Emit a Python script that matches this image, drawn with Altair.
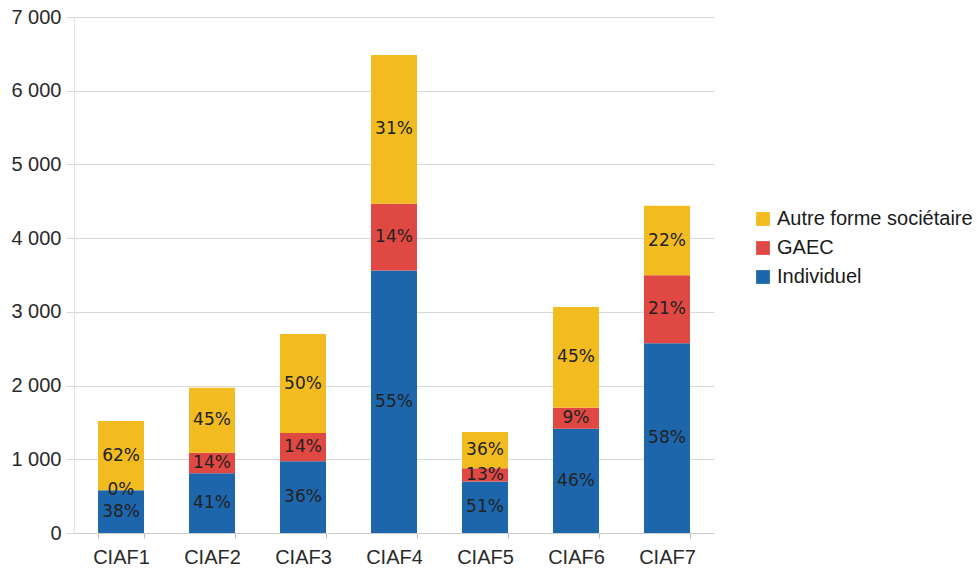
import altair as alt
import pandas as pd

categories = ["CIAF1", "CIAF2", "CIAF3", "CIAF4", "CIAF5", "CIAF6", "CIAF7"]
series = ["Individuel", "GAEC", "Autre forme sociétaire"]
individuel = [580, 810, 975, 3560, 700, 1415, 2575]
gaec = [0, 280, 380, 905, 180, 285, 920]
autre = [940, 880, 1345, 2020, 490, 1365, 945]
pct_individuel = ["38%", "41%", "36%", "55%", "51%", "46%", "58%"]
pct_gaec = ["0%", "14%", "14%", "14%", "13%", "9%", "21%"]
pct_autre = ["62%", "45%", "50%", "31%", "36%", "45%", "22%"]

rows = []
for i, c in enumerate(categories):
    for k, (s, vals, pcts) in enumerate(zip(series, [individuel, gaec, autre],
                                              [pct_individuel, pct_gaec, pct_autre])):
        rows.append({"cat": c, "serie": s, "value": vals[i], "pct": pcts[i], "ord": k})
df = pd.DataFrame(rows)

color_scale = alt.Scale(
    domain=["Autre forme sociétaire", "GAEC", "Individuel"],
    range=["#F2BB1F", "#E04844", "#1D66AC"],
)

base = alt.Chart(df).transform_stack(
    stack="value", groupby=["cat"], as_=["y0", "y1"], sort=[alt.SortField("ord", order="ascending")]
).transform_calculate(mid="(datum.y0 + datum.y1) / 2")

xenc = alt.X("cat:N", sort=categories, title=None,
             scale=alt.Scale(paddingInner=0.4945, paddingOuter=0.264),
             axis=alt.Axis(labelAngle=0, labelFontSize=20, labelFont="Liberation Sans",
                           labelColor="#2a2a2a", tickBand="extent", tickSize=5,
                           tickColor="#bbbbbb", domainColor="#cccccc", labelPadding=9))

bars = base.mark_bar().encode(
    x=xenc,
    y=alt.Y("y0:Q", scale=alt.Scale(domain=[0, 7000]), title=None,
            axis=alt.Axis(values=[0, 1000, 2000, 3000, 4000, 5000, 6000, 7000],
                          labelExpr="replace(format(datum.value, ','), ',', ' ')",
                          labelFontSize=20, labelFont="Liberation Sans", labelColor="#2a2a2a",
                          gridColor="#d8d8d8", tickColor="#d8d8d8", tickSize=8,
                          labelPadding=5, domainColor="#e4e4e4")),
    y2="y1:Q",
    color=alt.Color("serie:N", scale=color_scale, title=None,
                    legend=alt.Legend(orient="none", legendX=679, legendY=192,
                                      symbolType="square", symbolSize=190,
                                      symbolStrokeWidth=0, labelFontSize=20,
                                      labelFont="Liberation Sans", labelColor="#1a1a1a",
                                      rowPadding=9, labelOffset=4, labelLimit=300)),
)

labels = base.mark_text(fontSize=17, font="DejaVu Sans", color="#222222", baseline="middle").encode(
    x=alt.X("cat:N", sort=categories),
    y=alt.Y("mid:Q"),
    text="pct:N",
)

chart = alt.layer(bars, labels).properties(
    width=640, height=516,
    autosize=alt.AutoSizeParams(type="none"),
    padding={"left": 74, "top": 17, "right": 263, "bottom": 35},
).configure_view(stroke=None).configure_axis(grid=True).configure_axisX(grid=False)

chart.save("out.html", embed_options={"renderer": "svg", "actions": False})
